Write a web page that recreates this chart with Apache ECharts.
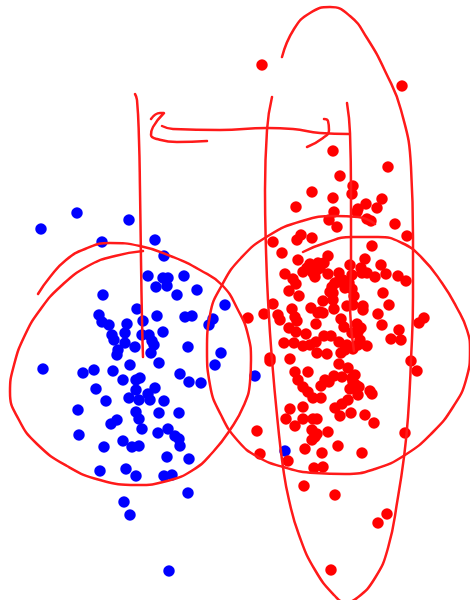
<!DOCTYPE html>
<html>
<head>
<meta charset="UTF-8">
<title>scatter with hand drawn clusters</title>
<script src="https://cdn.jsdelivr.net/npm/echarts@6/dist/echarts.min.js"></script>
<style>
html,body{margin:0;padding:0;background:#fff}
#chart{width:470px;height:600px}
</style>
</head>
<body>
<div id="chart"></div>
<script>
var bluePoints = [[41,229],[77,213],[129,220],[102,242],[155,240],[164,256],[148,276],[163,278],[168,278],[184,276],
[156,287],[167,286],[197,290],[177,295],[103,295],[225,305],[137,309],[99,315],[102,322],[109,325],
[127,324],[143,321],[157,316],[185,317],[192,316],[213,319],[209,325],[125,333],[112,335],[114,340],
[142,335],[149,335],[163,332],[152,341],[154,345],[125,343],[135,347],[118,350],[117,355],[151,353],
[188,347],[221,353],[159,363],[130,365],[215,365],[43,369],[83,373],[94,370],[113,371],[180,374],
[123,380],[136,380],[140,378],[189,382],[201,383],[96,389],[155,388],[136,390],[148,394],[129,398],
[139,400],[150,400],[164,401],[106,401],[78,410],[136,412],[159,413],[179,413],[139,419],[117,420],
[111,424],[142,429],[168,429],[158,433],[79,435],[175,436],[179,439],[123,441],[180,446],[139,446],
[132,447],[104,447],[167,457],[189,459],[126,469],[100,471],[136,476],[164,476],[172,475],[188,493],
[124,502],[130,515],[169,571],[255,376],[285,451]];

var redPoints = [[262,65],[402,86],[333,151],[388,167],[340,176],[353,186],[352,194],[312,192],[333,198],[382,199],
[366,204],[296,207],[377,208],[358,209],[357,212],[334,212],[329,220],[367,219],[371,221],[395,224],
[337,227],[407,236],[301,235],[297,240],[312,238],[273,242],[372,246],[282,253],[328,256],[298,260],
[365,259],[381,265],[350,265],[310,264],[318,263],[324,263],[361,268],[303,272],[307,268],[315,277],
[317,270],[285,274],[328,274],[339,273],[352,275],[367,273],[362,273],[375,277],[386,274],[398,276],
[406,281],[293,279],[296,284],[289,291],[299,296],[332,287],[338,282],[343,280],[352,289],[333,293],
[354,296],[383,293],[323,301],[333,300],[273,304],[292,309],[389,305],[311,308],[347,306],[363,306],
[353,305],[320,312],[248,318],[264,314],[278,315],[280,320],[295,317],[297,321],[318,313],[323,313],
[316,324],[334,309],[341,319],[363,310],[378,314],[382,325],[424,318],[419,323],[399,330],[391,339],
[401,340],[357,324],[344,327],[358,332],[352,333],[289,328],[296,332],[306,334],[284,343],[294,343],
[303,346],[310,345],[316,342],[324,336],[331,336],[339,342],[360,340],[367,346],[353,349],[345,350],
[341,353],[317,353],[327,354],[270,358],[270,361],[290,359],[411,361],[417,371],[339,364],[348,368],
[308,372],[295,372],[355,375],[334,376],[342,377],[325,380],[298,380],[353,382],[329,382],[321,386],
[303,387],[350,389],[359,387],[370,391],[372,394],[358,395],[308,392],[313,398],[321,398],[348,400],
[342,404],[335,408],[303,407],[290,409],[351,413],[340,416],[365,415],[374,423],[286,419],[303,419],
[313,419],[317,419],[295,426],[257,431],[312,430],[317,434],[328,432],[315,437],[312,440],[405,433],
[305,449],[322,453],[338,446],[362,453],[260,454],[288,461],[314,468],[323,467],[304,486],[335,495],
[387,514],[378,523],[331,570],[312,270],[320,268],[313,273],[335,283],[330,292],[345,288],[349,283],
[358,345],[361,328],[347,345],[352,378],[356,385]];

// hand drawn strokes, same coordinates as the points
var leftVertical = [[135,94],[137,100],[139,140],[140,190],[141,260],[142,320],[143,357]];
var leftLoop = [[38,294],[50,277],[66,260],[85,249],[110,243],[140,246],[173,257],[200,270],[222,285],[238,310],[248,335],[251,360],
[250,382],[244,405],[230,430],[213,452],[193,470],[167,481],[137,485],[100,480],[67,466],[37,444],[19,420],[10,392],
[14,365],[25,335],[40,310],[60,287],[88,266],[115,256],[143,251]];
var rightLoop = [[303,252],[325,243],[352,237],[378,237],[402,243],[422,258],[442,283],[457,308],[467,330],[470,350],[466,380],
[453,407],[433,432],[405,455],[375,469],[345,474],[315,473],[283,467],[258,457],[238,441],[221,415],[210,385],[207,350],
[210,315],[222,285],[241,258],[268,236],[302,221],[335,216],[358,217],[375,224]];
var tallLoop = [[272,97],[267,130],[265,190],[266,250],[268,300],[272,360],[278,425],[283,467],[289,500],[299,535],[315,570],[335,596],[345,602],
[357,598],[375,578],[388,548],[398,497],[404,457],[408,417],[411,360],[413,297],[413,237],[411,167],[401,110],[386,73],[367,38],
[350,16],[330,7],[310,13],[294,29],[282,57]];
var rightVertical = [[347,103],[350,133],[351,190],[351,263],[350,300],[354,351]];
var arrowTail = [[207,141],[177,142],[157,139],[151,135],[153,127],[164,113],[160,113],[151,119]];
var arrowShaft = [[162,126],[173,129],[220,130],[267,128],[293,129],[320,133],[349,134]];
var arrowHead = [[324,119],[328,121],[329,130],[323,138],[307,147]];
var strokes = [leftVertical, leftLoop, rightLoop, tallLoop, rightVertical, arrowTail, arrowShaft, arrowHead];

var series = [
	{type:'scatter', data:bluePoints, symbolSize:11.5, itemStyle:{color:'#0000ff',opacity:1}, z:2},
	{type:'scatter', data:redPoints, symbolSize:11.5, itemStyle:{color:'#ff0000',opacity:1}, z:3}
];
for(var i=0;i<strokes.length;i++){
	series.push({
		type:'line',
		data:strokes[i],
		smooth:0.5,
		showSymbol:false,
		clip:false,
		silent:true,
		lineStyle:{color:'#ff1a1a',width:2.5,cap:'round',join:'round'},
		z:4
	});
}

var chart = echarts.init(document.getElementById('chart'));
chart.setOption({
	animation:false,
	backgroundColor:'#fff',
	grid:{left:0,right:0,top:0,bottom:0},
	xAxis:{type:'value',min:0,max:470,show:false},
	yAxis:{type:'value',min:0,max:600,inverse:true,show:false},
	series:series
});
</script>
</body>
</html>
